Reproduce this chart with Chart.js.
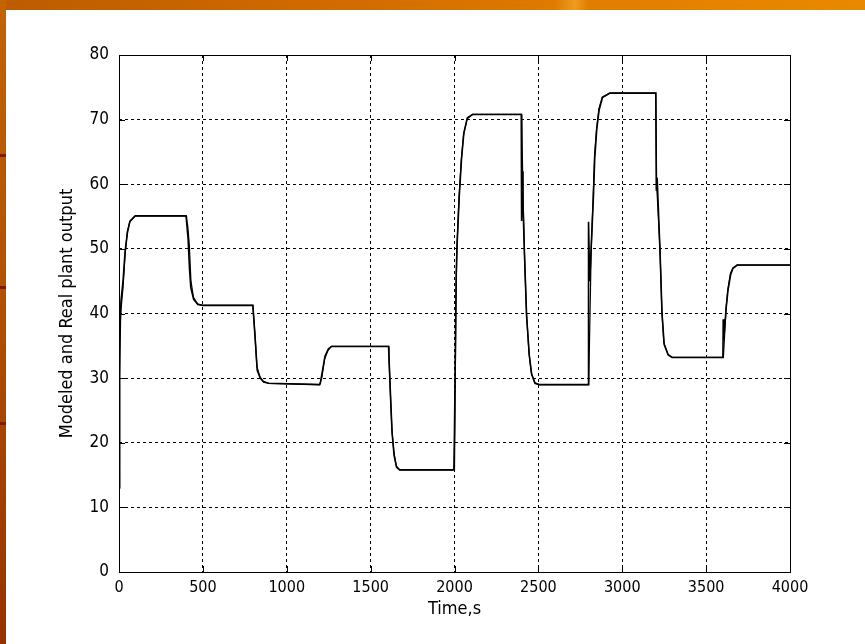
<!DOCTYPE html>
<html>
<head>
<meta charset="utf-8">
<script src="https://cdn.jsdelivr.net/npm/chart.js@4"></script>
<style>
  html, body { margin: 0; padding: 0; background: #fff; }
  #wrap { position: relative; width: 865px; height: 644px; overflow: hidden; background: #fff; }
  #topbar { position: absolute; left: 0; top: 0; width: 865px; height: 10px;
    background: linear-gradient(90deg, #bd5c00 0%, #d06c00 40%, #dd7a00 64%, #f09a20 66.5%, #e07e00 68%, #e88a00 100%); }
  #leftbar { position: absolute; left: 0; top: 0; width: 6px; height: 644px;
    background: linear-gradient(180deg, #c36300 0%, #b05200 45%, #963200 100%); }
  .streak { position: absolute; left: 0; width: 6px; height: 3px; background: #821800; }
  canvas { position: absolute; left: 0; top: 0; }
</style>
</head>
<body>
<div id="wrap">
  <div id="topbar"></div>
  <div id="leftbar"></div>
  <div class="streak" style="top:154px"></div>
  <div class="streak" style="top:286px"></div>
  <div class="streak" style="top:422px"></div>
  <canvas id="chart" width="865" height="644"></canvas>
</div>
<script>
// --- DATA ---
const xTicks = [0, 500, 1000, 1500, 2000, 2500, 3000, 3500, 4000];
const yTicks = [0, 10, 20, 30, 40, 50, 60, 70, 80];

// modeled output (time s, value)
const modelT = [0, 4, 10, 24, 36, 50, 65, 97, 400, 410, 419, 429, 444, 468, 500,
  798, 810, 822, 840, 860, 892, 1196, 1210, 1226, 1246, 1266, 1607, 1617, 1627, 1639, 1653, 1673,
  2000, 2008, 2014, 2026, 2040, 2054, 2075, 2107, 2400, 2409, 2417, 2429, 2444, 2458, 2478, 2504,
  2800, 2815, 2827, 2835, 2847, 2861, 2881, 2926, 3200, 3205, 3215, 3225, 3236, 3248, 3272, 3298,
  3603, 3619, 3629, 3645, 3659, 3685, 4000];
const modelY = [13, 30, 40, 44, 49, 52.7, 54.2, 55.1, 55.1, 53.5, 50.7, 45, 42.5, 41.5, 41.25,
  41.25, 37, 31.8, 30.2, 29.5, 29.2, 29.0, 30.2, 33, 34.3, 34.9, 34.9, 28.1, 22, 18.5, 16.4, 15.8,
  15.8, 40, 50, 57.4, 63.6, 67.6, 70.1, 70.8, 70.8, 57.9, 49.2, 40.1, 33.9, 30.8, 29.3, 29.0,
  29.0, 50, 58.5, 64.6, 68.6, 71.7, 73.5, 74.1, 74.1, 60, 55, 49.9, 40.6, 35.5, 33.7, 33.2,
  33.2, 40.9, 43.7, 46.2, 47, 47.5, 47.5];

// real plant output (time s, value)
const plantT = [0, 3, 6, 12, 24, 36, 50, 65, 97, 400, 402, 412, 420, 428, 445, 470, 500,
  798, 800, 812, 824, 842, 862, 892, 1196, 1200, 1212, 1228, 1248, 1266, 1607, 1609, 1619, 1628, 1640, 1655, 1673,
  1996, 2000, 2010, 2016, 2028, 2042, 2056, 2077, 2107, 2398, 2400, 2403, 2408, 2418, 2430, 2446, 2460, 2480, 2504,
  2796, 2798, 2800, 2806, 2828, 2836, 2848, 2862, 2882, 2926, 3200, 3203, 3208, 3226, 3237, 3250, 3274, 3298,
  3600, 3602, 3605, 3620, 3630, 3646, 3660, 3685, 4000];
const plantY = [13, 36, 38, 42, 45, 49.5, 52.5, 54.3, 55.1, 55.1, 54.5, 51.5, 47, 44, 42.2, 41.4, 41.25,
  41.25, 40.5, 36, 31.2, 30, 29.4, 29.2, 29.0, 29.2, 31, 33.4, 34.5, 34.9, 34.9, 33.5, 27, 21.5, 18, 16.2, 15.8,
  15.8, 22, 46, 51, 58, 64, 68, 70.3, 70.8, 70.8, 54.3, 62, 57, 48.5, 39.5, 33.5, 30.6, 29.2, 29.0,
  29.0, 36, 54.2, 45, 58, 64, 68.5, 71.5, 73.4, 74.1, 74.1, 59, 61, 49, 40, 35.2, 33.6, 33.2,
  33.2, 39.1, 36, 41, 43.5, 46, 47, 47.5, 47.5];

const FONT = "'DejaVu Sans Condensed', 'Liberation Sans Narrow', 'Liberation Sans', sans-serif";

function toPoints(ts, ys) { return ts.map((t, i) => ({ x: t, y: ys[i] })); }

// box + inward tick marks, MATLAB style
const boxPlugin = {
    id: 'box',
    afterDatasetsDraw(chart) {
        const { ctx, chartArea: a, scales } = chart;
        ctx.save();
        ctx.strokeStyle = '#000';
        ctx.lineWidth = 1;
        ctx.strokeRect(Math.round(a.left) + 0.5, Math.round(a.top) + 0.5, Math.round(a.right - a.left), Math.round(a.bottom - a.top));
        ctx.beginPath();
        yTicks.forEach(v => {
            const py = Math.round(scales.y.getPixelForValue(v)) + 0.5;
            ctx.moveTo(a.left, py); ctx.lineTo(a.left + 6, py);
            ctx.moveTo(a.right - 6, py); ctx.lineTo(a.right, py);
        });
        xTicks.forEach(v => {
            const px = Math.round(scales.x.getPixelForValue(v)) + 0.5;
            ctx.moveTo(px, a.bottom); ctx.lineTo(px, a.bottom - 6);
            ctx.moveTo(px, a.top); ctx.lineTo(px, a.top + 6);
        });
        ctx.stroke();
        ctx.restore();
    }
};

const gridCfg = { color: '#000', lineWidth: 1, drawTicks: false };

new Chart(document.getElementById('chart'), {
    type: 'scatter',
    data: {
        datasets: [
            { label: 'Real plant output', data: toPoints(plantT, plantY), showLine: true, borderColor: '#000', borderWidth: 1.6, pointRadius: 0, tension: 0 },
            { label: 'Modeled output', data: toPoints(modelT, modelY), showLine: true, borderColor: '#000', borderWidth: 1.2, pointRadius: 0, tension: 0 }
        ]
    },
    options: {
        responsive: false,
        animation: false,
        layout: { padding: { left: 57, top: 55, right: 75, bottom: 0 } },
        plugins: { legend: { display: false }, tooltip: { enabled: false } },
        scales: {
            x: {
                type: 'linear', min: 0, max: 4000,
                afterBuildTicks: s => { s.ticks = xTicks.map(v => ({ value: v })); },
                afterFit: s => { s.height = 644 - 572; },
                grid: gridCfg,
                border: { display: false, dash: [3, 3] },
                ticks: { color: '#000', padding: 6, maxRotation: 0, font: { family: FONT, size: 16 }, callback: v => String(v) },
                title: { display: true, text: 'Time,s', color: '#000', padding: { top: 0, bottom: 24 }, font: { family: FONT, size: 18 } }
            },
            y: {
                type: 'linear', min: 0, max: 80,
                afterBuildTicks: s => { s.ticks = yTicks.map(v => ({ value: v })); },
                afterFit: s => { s.width = 119 - 57; },
                grid: gridCfg,
                border: { display: false, dash: [3, 3] },
                ticks: { color: '#000', padding: 10, font: { family: FONT, size: 17 }, callback: v => String(v) },
                title: { display: true, text: 'Modeled and Real plant output', color: '#000', padding: 0, font: { family: FONT, size: 18 } }
            }
        }
    },
    plugins: [boxPlugin]
});
</script>
</body>
</html>
